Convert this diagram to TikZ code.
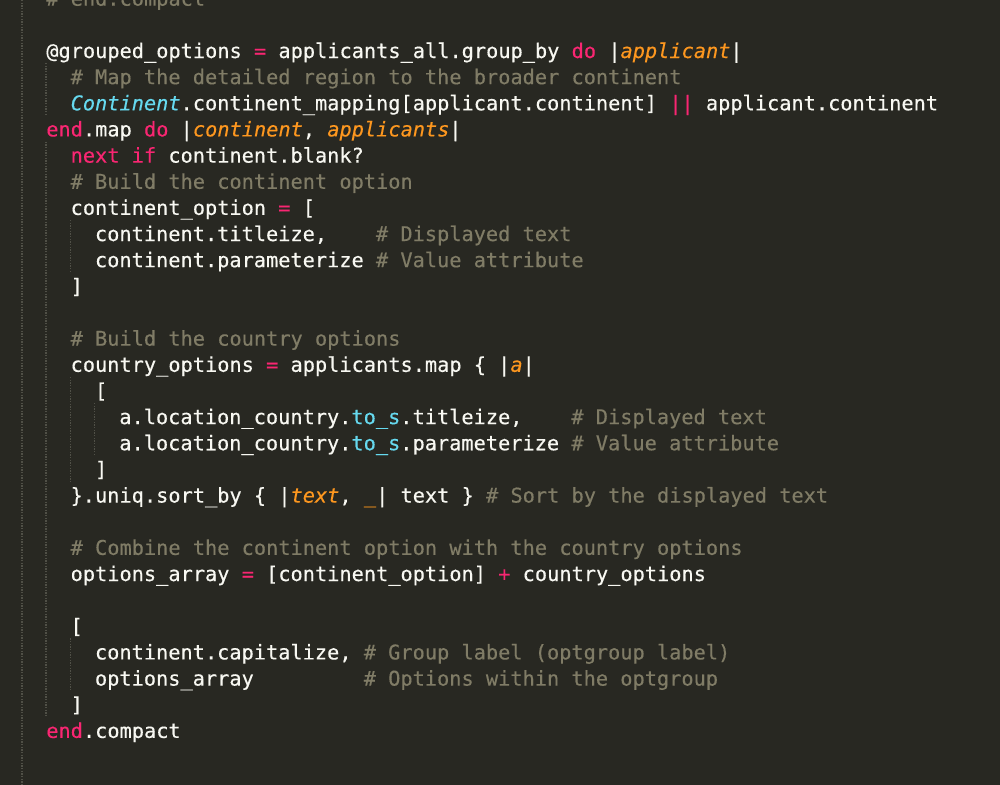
\documentclass[tikz,border=0pt]{standalone}
\usepackage{fontspec}
\setmonofont{DejaVu Sans Mono}[FakeBold=0.35]
\usepackage{tikz}
\definecolor{bgcol}{HTML}{282822}
\definecolor{plain}{HTML}{F8F8F2}
\definecolor{kwcol}{HTML}{F92672}
\definecolor{clcol}{HTML}{66D9EF}
\definecolor{prcol}{HTML}{FD971F}
\definecolor{cmcol}{HTML}{807C66}
\definecolor{guidecol}{HTML}{505047}
\newcommand{\kw}[1]{\textcolor{kwcol}{#1}}
\newcommand{\cl}[1]{\textcolor{clcol}{\itshape #1}}
\newcommand{\fn}[1]{\textcolor{clcol}{#1}}
\newcommand{\prm}[1]{\textcolor{prcol}{\itshape #1}}
\newcommand{\cm}[1]{\textcolor{cmcol}{#1}}
\frenchspacing

\begin{document}
\begin{tikzpicture}[x=0.75pt,y=-0.75pt,
  every node/.style={anchor=base west,inner sep=0pt,text=plain,
    font=\ttfamily\fontsize{15.22}{19.6}\selectfont}]
\fill[bgcol] (0,0) rectangle (1000,785);
\useasboundingbox (0,0) rectangle (1000,785);
% indent guides
\draw[guidecol,line width=1pt,dash pattern=on 1pt off 1pt] (22,0) -- (22,785);
\draw[guidecol,line width=1pt,dash pattern=on 1pt off 1pt] (46,63.15) -- (46,115.45);
\draw[guidecol,line width=1pt,dash pattern=on 1pt off 1pt] (46,141.6) -- (46,716.9);
\draw[guidecol,line width=1pt,dash pattern=on 1pt off 1pt] (70.4,220.05) -- (70.4,272.35);
\draw[guidecol,line width=1pt,dash pattern=on 1pt off 1pt] (70.4,376.95) -- (70.4,481.55);
\draw[guidecol,line width=1pt,dash pattern=on 1pt off 1pt] (70.4,638.45) -- (70.4,690.75);
\draw[guidecol,line width=1pt,dash pattern=on 1pt off 1pt] (94.7,403.1) -- (94.7,455.4);
% code lines
\node (l0) at (46.04,5.7) {\cm{\# end.compact}};
\node (l2) at (46.04,58.0) {@grouped\_options \kw{=} applicants\_all.group\_by \kw{do} |\prm{applicant}|};
\node (l3) at (70.38,84.15) {\cm{\# Map the detailed region to the broader continent}};
\node (l4) at (70.38,110.3) {\cl{Continent}.continent\_mapping[applicant.continent] \kw{||} applicant.continent};
\node (l5) at (46.04,136.45) {\kw{end}.map \kw{do} |\prm{continent}, \prm{applicants}|};
\node (l6) at (70.38,162.6) {\kw{next} \kw{if} continent.blank?};
\node (l7) at (70.38,188.75) {\cm{\# Build the continent option}};
\node (l8) at (70.38,214.9) {continent\_option \kw{=} [};
\node (l9) at (94.72,241.05) {continent.titleize,\ \ \ \ \cm{\# Displayed text}};
\node (l10) at (94.72,267.2) {continent.parameterize \cm{\# Value attribute}};
\node (l11) at (70.38,293.35) {]};
\node (l13) at (70.38,345.65) {\cm{\# Build the country options}};
\node (l14) at (70.38,371.8) {country\_options \kw{=} applicants.map \{ |\prm{a}|};
\node (l15) at (94.72,397.95) {[};
\node (l16) at (119.06,424.1) {a.location\_country.\fn{to\_s}.titleize,\ \ \ \ \cm{\# Displayed text}};
\node (l17) at (119.06,450.25) {a.location\_country.\fn{to\_s}.parameterize \cm{\# Value attribute}};
\node (l18) at (94.72,476.4) {]};
\node (l19) at (70.38,502.55) {\}.uniq.sort\_by \{ |\prm{text}, \prm{\_}| text \} \cm{\# Sort by the displayed text}};
\node (l21) at (70.38,554.85) {\cm{\# Combine the continent option with the country options}};
\node (l22) at (70.38,581.0) {options\_array \kw{=} [continent\_option] \kw{+} country\_options};
\node (l24) at (70.38,633.3) {[};
\node (l25) at (94.72,659.45) {continent.capitalize, \cm{\# Group label (optgroup label)}};
\node (l26) at (94.72,685.6) {options\_array\ \ \ \ \ \ \ \ \ \cm{\# Options within the optgroup}};
\node (l27) at (70.38,711.75) {]};
\node (l28) at (46.04,737.9) {\kw{end}.compact};
\end{tikzpicture}
\end{document}
